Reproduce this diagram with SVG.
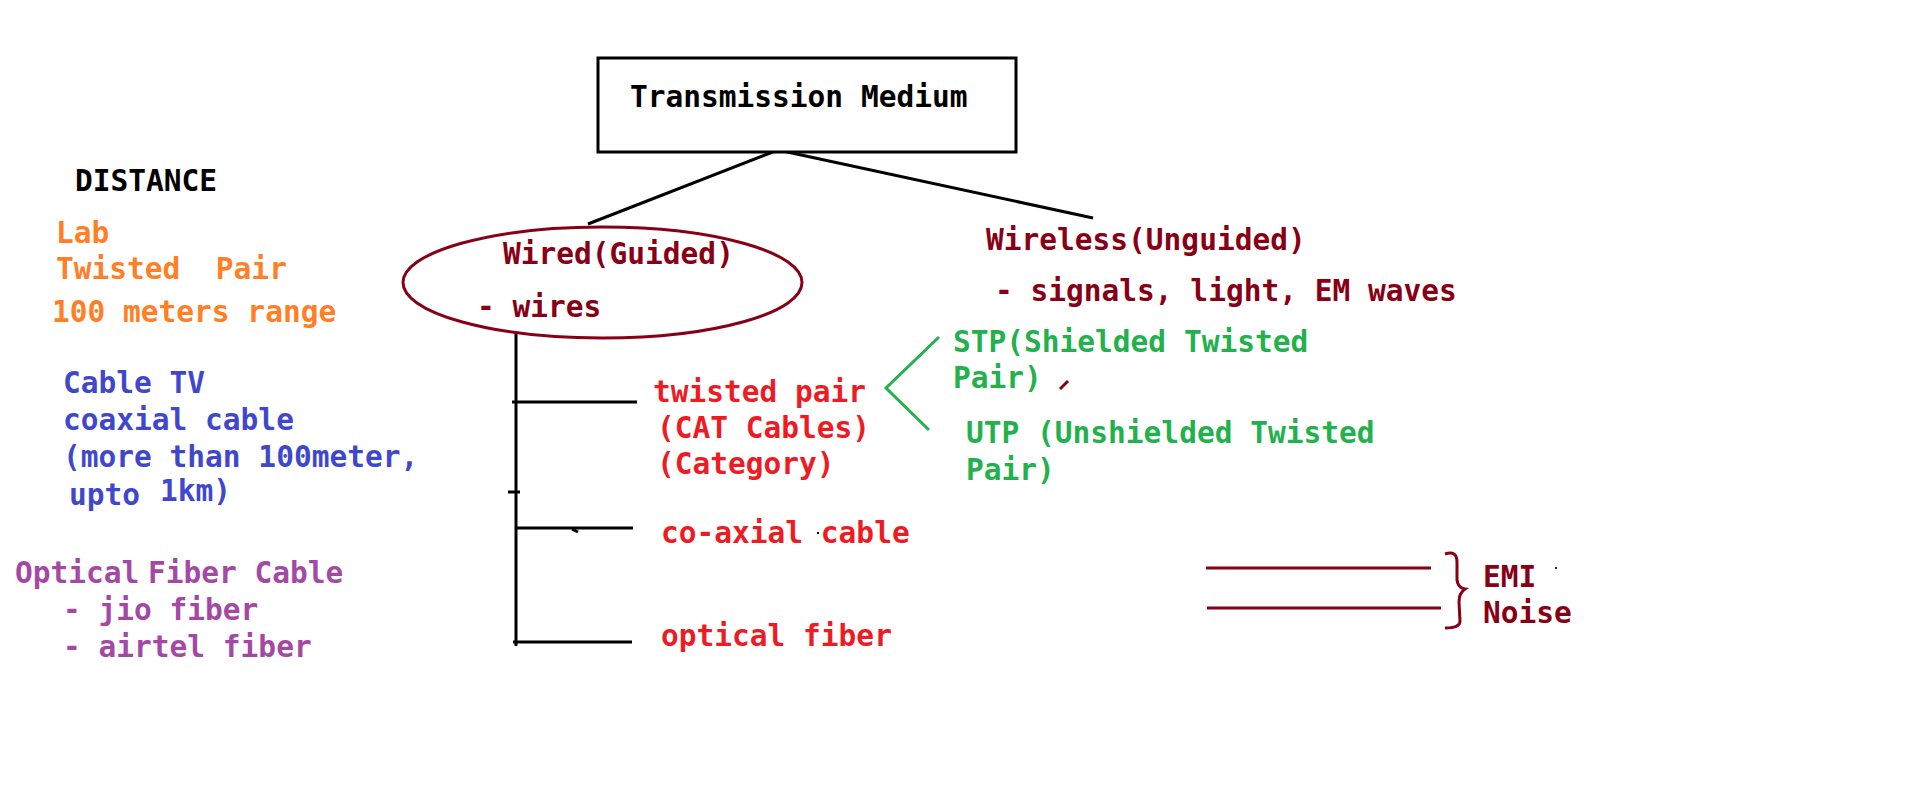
<svg xmlns="http://www.w3.org/2000/svg" width="1914" height="806" viewBox="0 0 1914 806">
<style>
text{font-family:"DejaVu Sans Mono","Liberation Mono",monospace;font-weight:bold;font-size:29.5px}
.k{fill:#000}.o{fill:#FF7F27}.b{fill:#3F48CC}.p{fill:#A349A4}.r{fill:#ED1C24}.g{fill:#22B14C}.d{fill:#880015}
.ln{stroke:#000;stroke-width:3;fill:none}
.dl{stroke:#880015;stroke-width:3;fill:none}
.gl{stroke:#22B14C;stroke-width:3;fill:none}
</style>
<rect width="1914" height="806" fill="#fff"/>
<g id="connectors">
<line class="ln" x1="778" y1="150" x2="588" y2="224"/>
<line class="ln" x1="778" y1="150" x2="1093" y2="218"/>
<line class="ln" x1="516" y1="333" x2="516" y2="646"/>
<line class="ln" x1="512" y1="402" x2="637" y2="402"/>
<line class="ln" x1="508" y1="492" x2="520" y2="492"/>
<line class="ln" x1="516" y1="528" x2="633" y2="528"/>
<line class="ln" x1="513" y1="642" x2="632" y2="642"/>
<line class="ln" x1="572" y1="529" x2="578" y2="532"/>
<polyline class="gl" points="939,337 886,388 929,430"/>
</g>
<g id="transmission-medium">
<rect x="598" y="58" width="418" height="94" fill="#fff" stroke="#000" stroke-width="3"/>
<text class="k" x="630" y="107">Transmission Medium</text>
</g>
<g id="distance">
<text class="k" x="75" y="191">DISTANCE</text>
<text class="o" x="56" y="243">Lab</text>
<text class="o" x="56" y="279" xml:space="preserve">Twisted  Pair</text>
<text class="o" x="52" y="322">100 meters range</text>
</g>
<g id="cable-tv">
<text class="b" x="63" y="393">Cable TV</text>
<text class="b" x="63" y="430">coaxial cable</text>
<text class="b" x="63" y="467">(more than 100meter,</text>
<text class="b" x="69" y="505">upto</text>
<text class="b" x="160" y="501">1km)</text>
</g>
<g id="optical-fiber-cable">
<text class="p" x="15" y="583">Optical</text>
<text class="p" x="148" y="583">Fiber Cable</text>
<text class="p" x="63" y="620">- jio fiber</text>
<text class="p" x="63" y="657">- airtel fiber</text>
</g>
<g id="wired">
<ellipse cx="602.5" cy="282.5" rx="199.5" ry="55.5" fill="none" stroke="#880015" stroke-width="3"/>
<text class="d" x="503" y="264">Wired(Guided)</text>
<text class="d" x="477" y="317">- wires</text>
</g>
<g id="wireless">
<text class="d" x="986" y="250">Wireless(Unguided)</text>
<text class="d" x="995" y="301">- signals, light, EM waves</text>
</g>
<g id="twisted-pair">
<text class="r" x="653" y="402">twisted pair</text>
<text class="r" x="657" y="438">(CAT Cables)</text>
<text class="r" x="657" y="474">(Category)</text>
</g>
<g id="stp">
<text class="g" x="953" y="352">STP(Shielded Twisted</text>
<text class="g" x="953" y="388">Pair)</text>
<line class="dl" x1="1060" y1="389" x2="1068" y2="381"/>
</g>
<g id="utp">
<text class="g" x="966" y="443">UTP (Unshielded Twisted</text>
<text class="g" x="966" y="480">Pair)</text>
</g>
<g id="coaxial">
<text class="r" x="661" y="543">co-axial cable</text>
<rect x="817" y="532" width="2" height="2" fill="#000"/>
</g>
<g id="optical-fiber">
<text class="r" x="661" y="646">optical fiber</text>
</g>
<g id="emi-noise">
<line class="dl" x1="1206" y1="568" x2="1431" y2="568"/>
<line class="dl" x1="1207" y1="608" x2="1441" y2="608"/>
<path class="dl" stroke-width="3.5" d="M1445,554 Q1457,550 1457,562 L1457,580 Q1458,588 1465,589 Q1459,593 1459,602 L1460,621 Q1460,628 1445,628"/>
<text class="d" x="1483" y="587">EMI</text>
<text class="d" x="1483" y="623">Noise</text>
<rect x="1555" y="567" width="2" height="2" fill="#880015"/>
</g>
</svg>
